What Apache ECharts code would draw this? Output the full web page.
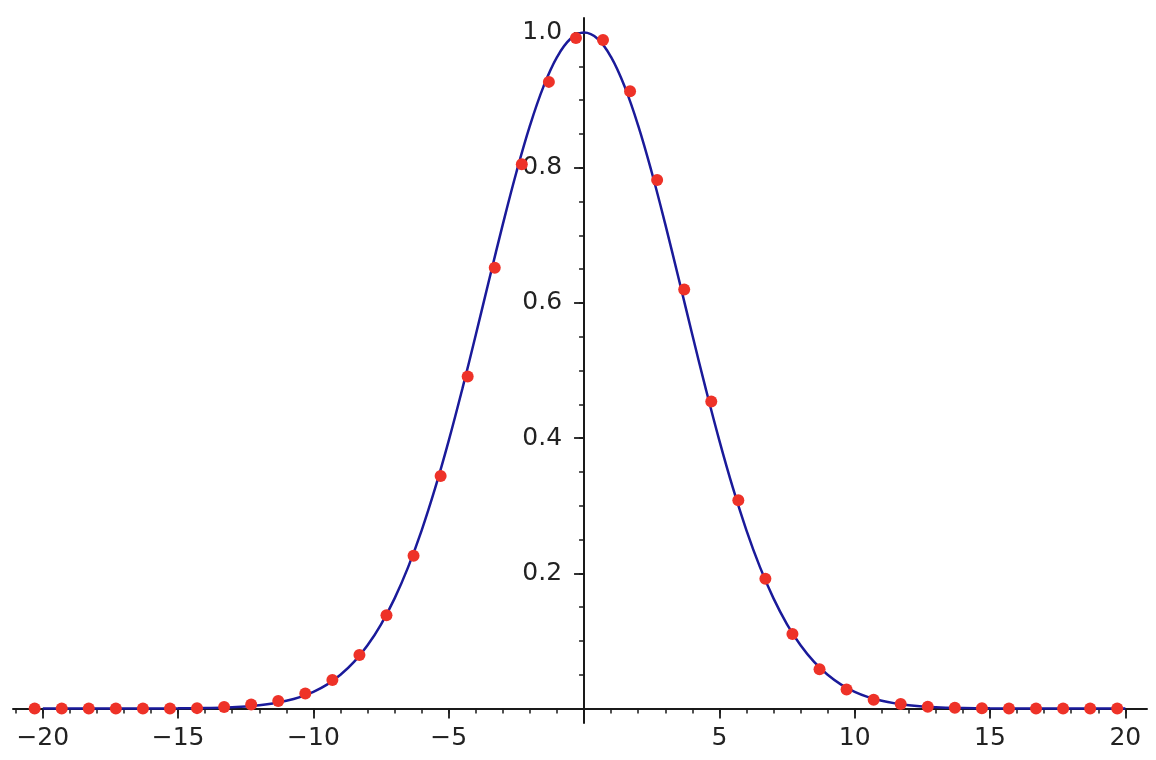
<!DOCTYPE html>
<html>
<head>
<meta charset="utf-8">
<script src="https://cdn.jsdelivr.net/npm/echarts@6/dist/echarts.min.js"></script>
<style>
html,body{margin:0;padding:0;background:#fff;}
#chart{width:1156px;height:760px;}
</style>
</head>
<body>
<div id="chart"></div>
<script>
// Scatter data (red points)
const pointX = [-20.3,-19.3,-18.3,-17.3,-16.3,-15.3,-14.3,-13.3,-12.3,-11.3,-10.3,-9.3,-8.3,-7.3,-6.3,-5.3,-4.3,-3.3,-2.3,-1.3,-0.3,
                0.7,1.7,2.7,3.7,4.7,5.7,6.7,7.7,8.7,9.7,10.7,11.7,12.7,13.7,14.7,15.7,16.7,17.7,18.7,19.7];
const pointY = [0,0,0,0,0,0,0.0005,0.002,0.006,0.011,0.022,0.042,0.079,0.138,0.226,0.344,0.491,0.652,0.805,0.927,0.992,
                0.989,0.913,0.782,0.620,0.454,0.308,0.192,0.110,0.058,0.028,0.013,0.0065,0.0027,0.001,0.0003,0,0,0,0,0];

// Curve samples (blue line)
const curveX = [-20,-19,-18,-17,-16,-15,-14,-13,-12,-11.5,-11,-10.5,-10,-9.5,-9,-8.5,-8,-7.5,-7,-6.5,-6,-5.5,-5,-4.5,-4,-3.5,-3,-2.5,-2,-1.5,-1,-0.5,
                0,0.5,1,1.5,2,2.5,3,3.5,4,4.5,5,5.5,6,6.5,7,7.5,8,8.5,9,9.5,10,10.5,11,11.5,12,13,14,15,16,17,18,19,20];
const curveY = [0,0,0,0,0.0001,0.0002,0.0007,0.0019,0.0048,0.0075,0.0113,0.0168,0.0246,0.0353,0.0498,0.0688,0.0934,0.1245,0.1629,0.2091,0.2636,0.3262,0.3962,0.4724,0.5529,0.6353,0.7165,0.7933,0.8623,0.9200,0.9636,0.9908,
                1,0.9908,0.9636,0.9200,0.8623,0.7933,0.7165,0.6353,0.5529,0.4724,0.3962,0.3262,0.2636,0.2091,0.1629,0.1245,0.0934,0.0688,0.0498,0.0353,0.0246,0.0168,0.0113,0.0075,0.0048,0.0019,0.0007,0.0002,0.0001,0,0,0,0];

// Tick values
const xMajorTicks = [-20,-15,-10,-5,0,5,10,15,20];
const xLabels = [-20,-15,-10,-5,5,10,15,20];
const xMinorTicks = [-21,-20,-19,-18,-17,-16,-15,-14,-13,-12,-11,-10,-9,-8,-7,-6,-5,-4,-3,-2,-1,0,1,2,3,4,5,6,7,8,9,10,11,12,13,14,15,16,17,18,19,20];
const yMajorTicks = [0.2,0.4,0.6,0.8,1.0];
const yLabels = [0.2,0.4,0.6,0.8,1.0];
const yMinorTicks = [0.05,0.1,0.15,0.2,0.25,0.3,0.35,0.4,0.45,0.5,0.55,0.6,0.65,0.7,0.75,0.8,0.85,0.9,0.95,1.0];

const X_MIN = -21.1, X_MAX = 20.8, Y_MIN = -0.0215, Y_MAX = 1.0215;
const W = 1156, H = 760;
const G = {left: 13, right: 9, top: 18, bottom: 37};
const AXIS_COLOR = '#1a1a1a';
const FONT = {fontFamily: 'DejaVu Sans', fontSize: 25, color: '#222222'};

// Axes cross at the origin: shift each axis from the grid edge to the zero of the other axis
const gridW = W - G.left - G.right, gridH = H - G.top - G.bottom;
const yAxisOffset = -((0 - X_MIN) / (X_MAX - X_MIN)) * gridW;
const xAxisOffset = -((0 - Y_MIN) / (Y_MAX - Y_MIN)) * gridH;

const chart = echarts.init(document.getElementById('chart'), null, {renderer: 'canvas'});
const fmtX = v => v < 0 ? '\u2212' + Math.abs(v) : String(v);
const fmtY = v => Number(v).toFixed(1);

chart.setOption({
  animation: false,
  backgroundColor: '#ffffff',
  grid: Object.assign({containLabel: false, outerBoundsMode: 'none'}, G),
  xAxis: [
    {
      type: 'value', min: X_MIN, max: X_MAX, position: 'bottom', offset: xAxisOffset,
      axisLine: {show: true, onZero: false, lineStyle: {color: AXIS_COLOR, width: 2}},
      axisTick: {show: true, customValues: xMajorTicks, length: 10, inside: false, lineStyle: {color: AXIS_COLOR, width: 1.8}},
      axisLabel: Object.assign({show: true, customValues: xLabels, margin: 18, formatter: fmtX, showMinLabel: true, showMaxLabel: true}, FONT),
      splitLine: {show: false}
    },
    {
      type: 'value', min: X_MIN, max: X_MAX, position: 'bottom', offset: xAxisOffset,
      axisLine: {show: false, onZero: false},
      axisTick: {show: true, customValues: xMinorTicks, length: 5, inside: false, lineStyle: {color: AXIS_COLOR, width: 1.5}},
      axisLabel: {show: false},
      splitLine: {show: false}
    }
  ],
  yAxis: [
    {
      type: 'value', min: Y_MIN, max: Y_MAX, position: 'left', offset: yAxisOffset,
      axisLine: {show: true, onZero: false, lineStyle: {color: AXIS_COLOR, width: 2}},
      axisTick: {show: true, customValues: yMajorTicks, length: 10, inside: false, lineStyle: {color: AXIS_COLOR, width: 1.8}},
      axisLabel: Object.assign({show: true, customValues: yLabels, margin: 22, formatter: fmtY}, FONT),
      splitLine: {show: false}
    },
    {
      type: 'value', min: Y_MIN, max: Y_MAX, position: 'left', offset: yAxisOffset,
      axisLine: {show: false, onZero: false},
      axisTick: {show: true, customValues: yMinorTicks, length: 5, inside: false, lineStyle: {color: AXIS_COLOR, width: 1.5}},
      axisLabel: {show: false},
      splitLine: {show: false}
    }
  ],
  series: [
    {
      type: 'line', xAxisIndex: 0, yAxisIndex: 0,
      data: curveX.map((x, i) => [x, curveY[i]]),
      smooth: 0.4, showSymbol: false, symbol: 'none',
      lineStyle: {color: '#1a1a9a', width: 2.5},
      z: 2
    },
    {
      type: 'scatter', xAxisIndex: 0, yAxisIndex: 0,
      data: pointX.map((x, i) => [x, pointY[i]]),
      symbol: 'circle', symbolSize: 12,
      itemStyle: {color: '#ee3228', opacity: 1},
      z: 3
    }
  ]
});
</script>
</body>
</html>
